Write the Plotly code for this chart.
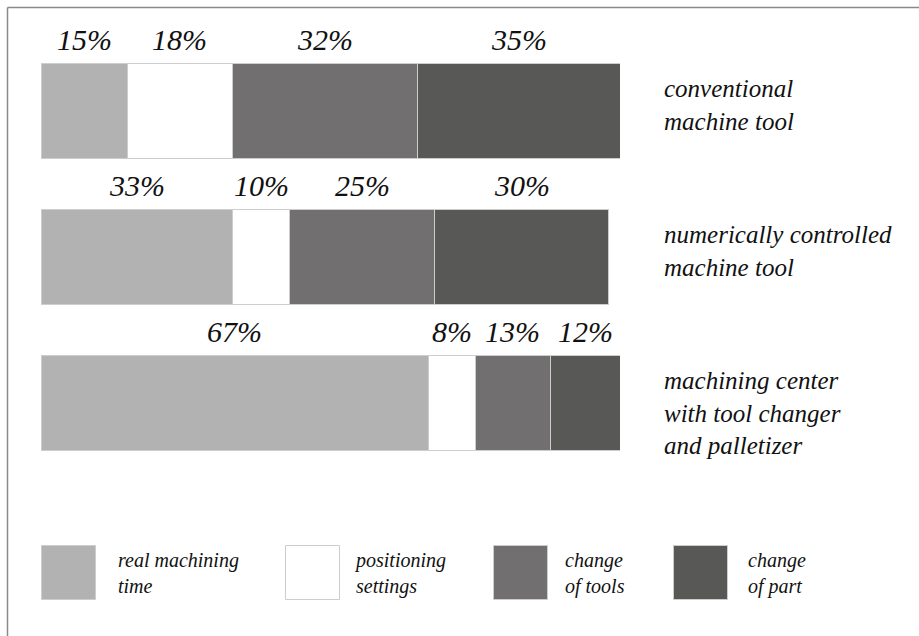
import plotly.graph_objects as go

# Machine types (bar rows) and their display labels
categories = [
    "conventional machine tool",
    "numerically controlled machine tool",
    "machining center with tool changer and palletizer",
]
category_labels = [
    "conventional<br>machine tool",
    "numerically controlled<br>machine tool",
    "machining center<br>with tool changer<br>and palletizer",
]

# Share of total time (%) for each activity
series_names = ["real machining time", "positioning settings", "change of tools", "change of part"]
series_labels = ["real machining<br>time", "positioning<br>settings", "change<br>of tools", "change<br>of part"]
real_machining = [15, 33, 67]
positioning = [18, 10, 8]
tool_change = [32, 25, 13]
part_change = [35, 30, 12]
series_values = [real_machining, positioning, tool_change, part_change]

colors = ["#b2b2b2", "#ffffff", "#716f6f", "#585857"]
outline = "#cdcdcd"

W, H = 919, 636
FAMILY = "Liberation Serif"


def serif(size):
    return dict(family=FAMILY, size=size, color="#111111")


def to_px(x):
    return x / W


def to_py(y):
    return 1 - y / H


fig = go.Figure()

# stacked horizontal bars
for name, vals, col in zip(series_names, series_values, colors):
    fig.add_trace(go.Bar(
        y=categories, x=vals, name=name, orientation="h",
        marker=dict(color=col, line=dict(color=outline, width=1)),
        showlegend=False, xaxis="x", yaxis="y",
    ))

# full-page pixel grid used for the legend swatches and the frame
swatch_x = [41, 285, 493, 673]
text_x = [116, 352, 563, 746]
for sx, col, name in zip(swatch_x, colors, series_names):
    fig.add_trace(go.Scatter(
        x=[sx + 27.5], y=[572.5], mode="markers", name=name,
        marker=dict(symbol="square", size=54, color=col, line=dict(color=outline, width=1)),
        showlegend=False, hoverinfo="skip", xaxis="x2", yaxis="y2",
    ))
for fx, fy in (([7.5, W], [7.5, 7.5]), ([7.5, 7.5], [7.5, H])):
    fig.add_trace(go.Scatter(
        x=fx, y=fy, mode="lines", line=dict(color="#8a8a8a", width=1.5),
        showlegend=False, hoverinfo="skip", xaxis="x2", yaxis="y2",
    ))

annotations = []
# percentage labels above each segment (category index scale on y)
for ci in range(len(categories)):
    left = 0
    for vals in series_values:
        v = vals[ci]
        annotations.append(dict(
            x=left + v / 2, y=ci - 0.49, xref="x", yref="y",
            text=f"<i>{v}%</i>", showarrow=False,
            font=serif(30),
        ))
        left += v

# row labels to the right of the bars
for ci, lab in enumerate(category_labels):
    annotations.append(dict(
        x=to_px(662), y=ci - 0.26, xref="paper", yref="y",
        xanchor="left", yanchor="top", align="left",
        text=f"<i>{lab}</i>", showarrow=False,
        font=serif(25),
    ))

# legend texts
for tx, lab in zip(text_x, series_labels):
    annotations.append(dict(
        x=to_px(tx), y=to_py(573), xref="paper", yref="paper",
        xanchor="left", yanchor="middle", align="left",
        text=f"<i>{lab}</i>", showarrow=False,
        font=serif(20),
    ))

fig.update_layout(
    width=W, height=H,
    margin=dict(l=0, r=0, t=0, b=0),
    paper_bgcolor="white", plot_bgcolor="rgba(0,0,0,0)",
    font=dict(family=FAMILY),
    barmode="stack", bargap=0.356,
    xaxis=dict(range=[0, 100], domain=[to_px(41), to_px(620)], visible=False, anchor="y"),
    yaxis=dict(type="category", categoryorder="array", categoryarray=categories,
               range=[2.5, -0.5], domain=[to_py(476), to_py(38)], visible=False, anchor="x"),
    xaxis2=dict(range=[0, W], domain=[0, 1], visible=False, anchor="y2"),
    yaxis2=dict(range=[H, 0], domain=[0, 1], visible=False, anchor="x2"),
    annotations=annotations,
)

fig.write_html("out.html")
